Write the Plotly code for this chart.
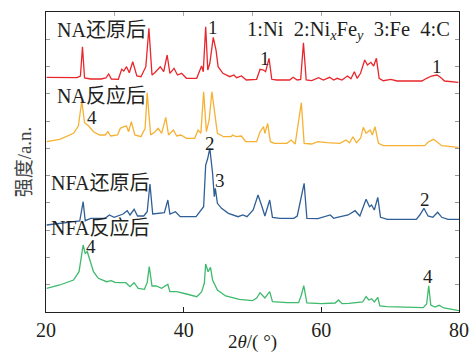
import plotly.graph_objects as go

# XRD patterns (2theta in degrees, stacked intensity in arbitrary units)
na_red_x = [20.1, 22.0, 24.5, 25.0, 25.3, 25.6, 26.5, 28.0, 28.7, 29.1, 29.5, 30.5, 31.0, 31.3, 31.7,
            32.1, 32.6, 33.2, 33.8, 34.5, 34.95, 35.4, 35.8, 36.6, 37.1, 37.6, 38.0, 38.6, 39.1, 39.7,
            40.4, 41.9, 42.3, 42.6, 42.85, 43.2, 43.5, 43.8, 44.3, 44.7, 45.0, 45.7, 46.7, 47.3, 47.7,
            48.4, 49.1, 50.6, 51.1, 51.6, 51.9, 52.4, 52.8, 53.5, 55.4, 55.9, 56.5, 57.0, 57.4, 57.8,
            58.6, 59.6, 60.3, 61.2, 61.8, 62.3, 63.0, 63.8, 64.3, 64.8, 65.2, 65.7, 66.3, 66.7, 67.2,
            67.6, 68.0, 68.4, 69.0, 70.1, 71.0, 74.6, 75.3, 76.0, 76.8, 77.3, 77.9, 79.9]
na_red_y = [234.7, 234.5, 234.3, 236, 265.3, 234, 233, 233, 234, 238, 233, 232.7, 242.7, 241, 245.3,
            239.3, 250.3, 236, 235.3, 245.3, 283.7, 237, 239.3, 245.3, 240.3, 257, 238.7, 243.7, 237, 238.7,
            233.7, 233.7, 241.3, 246, 240.3, 285.3, 242, 248.7, 274.7, 262, 245.3, 238.7, 235.3, 237, 234.3,
            236, 232, 232.7, 242.7, 242, 240.3, 253.7, 232.7, 232, 232, 234.7, 232, 232.5, 269.3, 232,
            231.3, 234.3, 232, 234.7, 232, 233.7, 232, 236, 233.3, 240.3, 233.7, 238.7, 252, 247, 249.7,
            246, 253.7, 233.7, 231.3, 232.7, 231, 231, 233.7, 236, 237, 234.7, 231, 229.7]

na_org_x = [20.1, 22.0, 24.0, 24.7, 25.2, 25.6, 26.2, 26.9, 27.8, 28.6, 29.0, 29.4, 30.4, 30.8, 31.3,
            31.7, 32.0, 32.4, 32.9, 33.8, 34.4, 34.7, 35.2, 35.8, 36.3, 36.8, 37.4, 37.8, 38.5, 39.0,
            39.6, 40.4, 41.6, 42.1, 42.5, 42.9, 43.3, 43.7, 44.1, 44.5, 44.9, 45.8, 46.9, 47.1, 47.6,
            48.4, 49.0, 50.6, 51.1, 51.6, 51.8, 52.2, 52.6, 53.2, 55.0, 55.6, 56.2, 57.1, 57.5, 58.6,
            59.5, 60.8, 62.7, 63.6, 64.1, 64.6, 65.1, 65.7, 66.1, 66.5, 67.1, 67.4, 67.8, 68.3, 69.0,
            75.0, 75.6, 76.3, 76.9, 77.5, 79.9]
na_org_y = [170.3, 172.7, 178.7, 186, 211, 189.3, 186, 180.3, 177, 177, 180.3, 176, 177, 183.7, 185.3,
            186, 180.3, 190.3, 177, 175.3, 183.7, 219.3, 177, 180, 183.7, 178.7, 194.7, 177, 182, 176,
            177, 173.7, 173.7, 182, 178.7, 220.3, 180.3, 192, 220.3, 202, 178.7, 175.3, 175.3, 177, 175.3,
            176, 170.3, 170.3, 180.3, 185.3, 178.7, 188.7, 170.3, 168.7, 168.7, 172, 168, 209.3, 168.7, 168,
            170.3, 169.3, 168.7, 172, 169.3, 175.3, 169.3, 173.7, 184.7, 178.7, 182, 177, 185.3, 168.7, 166.3,
            166.3, 170.3, 172.7, 169.3, 166.3, 164.7]

nfa_blue_x = [20.1, 22.0, 24.9, 25.4, 25.7, 26.5, 28.6, 29.2, 29.9, 31.2, 31.8, 32.2, 32.8, 33.3, 34.2,
              34.7, 35.1, 35.5, 36.6, 37.2, 37.7, 38.0, 38.8, 39.5, 41.8, 42.5, 42.9, 43.2, 43.5, 43.8,
              44.2, 44.45, 44.6, 44.9, 45.5, 46.5, 47.2, 47.9, 48.6, 49.2, 50.1, 50.8, 51.3, 51.8, 52.5,
              52.9, 54.0, 56.0, 56.5, 57.5, 57.9, 59.5, 61.3, 61.8, 62.3, 63.9, 64.9, 65.6, 66.5, 67.0,
              67.3, 67.7, 68.2, 68.6, 69.6, 73.8, 74.3, 74.9, 75.5, 76.2, 76.9, 77.5, 78.4, 80.0]
nfa_blue_y = [87, 88.7, 91, 110.3, 91.3, 93.7, 93.7, 97, 94.7, 98, 101.3, 97, 102.7, 96, 96,
              100.3, 128, 98, 98.7, 99.3, 112, 98, 100.3, 95.3, 95.3, 102, 105.3, 147, 153.7, 163.7,
              138.7, 115.3, 123.7, 108.7, 103.7, 98.7, 97, 95.3, 97, 95.3, 102, 117, 107, 96, 112,
              94.7, 93.7, 93.7, 96, 128.7, 93.7, 93.3, 97, 93.7, 94.7, 97, 101.3, 96, 112.7, 105.3,
              107, 102, 114.7, 94.7, 92.7, 92.7, 97, 103.7, 96, 94.7, 99.7, 94.7, 92.7, 92.7]

nfa_green_x = [20.1, 22.0, 24.0, 24.8, 25.4, 25.7, 26.0, 26.4, 26.9, 27.6, 28.8, 29.5, 30.0, 30.7, 31.6,
               32.2, 32.8, 33.4, 34.3, 34.7, 35.0, 35.4, 36.0, 36.8, 37.7, 38.0, 39.0, 40.4, 41.9, 42.6,
               43.0, 43.2, 43.55, 43.9, 44.2, 44.9, 46.1, 48.1, 50.0, 50.6, 51.1, 51.8, 52.5, 52.9, 55.0,
               56.7, 57.1, 57.45, 57.9, 60.0, 62.0, 62.5, 63.0, 64.0, 64.7, 65.5, 66.0, 66.5, 66.9, 67.3,
               67.7, 68.2, 68.5, 69.5, 73.0, 74.8, 75.3, 75.6, 75.9, 76.5, 77.1, 77.8, 80.0]
nfa_green_y = [23.7, 27, 32, 40.3, 67, 58.7, 60.3, 52, 40.3, 33.7, 30.3, 31.3, 29.7, 29.3, 29.3,
               25.3, 29.3, 23.7, 22.7, 29.3, 45.3, 26, 26, 23.7, 27.7, 20.3, 20.3, 18, 15.3, 20,
               28.7, 48, 40.3, 44.7, 32, 22, 16, 12.7, 11.3, 14, 19.3, 14, 20.3, 10.3, 9.3,
               9.3, 17, 26.3, 9, 8.3, 9, 12, 8.3, 8.7, 9.3, 9.3, 10, 15.3, 12, 13.3,
               10, 14.7, 6, 5.3, 5, 4.3, 8, 26.3, 7, 5, 6.7, 4, 1.3]

series = [
    (na_red_x, na_red_y, "#e8262b"),
    (na_org_x, na_org_y, "#f6b133"),
    (nfa_blue_x, nfa_blue_y, "#2f5f96"),
    (nfa_green_x, nfa_green_y, "#3dba6c"),
]

x_ticks = [20, 40, 60, 80]

FONT = '"Liberation Serif", "Noto Sans CJK SC", serif'
INK = "#231f20"

fig = go.Figure()
for xs, ys, color in series:
    fig.add_trace(go.Scatter(x=xs, y=ys, mode="lines",
                             line=dict(color=color, width=1.3),
                             showlegend=False, hoverinfo="skip"))

# invisible trace to carry the top axis with its minor ticks
fig.add_trace(go.Scatter(x=[20, 80], y=[0, 0], xaxis="x2", mode="lines",
                         line=dict(width=0), showlegend=False, hoverinfo="skip"))

labels = [
    ("NA还原后", 21.3, 282, "left", 20),
    ("NA反应后", 21.3, 216, "left", 20),
    ("NFA还原后", 20.5, 129, "left", 20),
    ("NFA反应后", 20.5, 84, "left", 20),
    ("1:Ni  2:Ni<sub><i>x</i></sub>Fe<sub><i>y</i></sub>  3:Fe  4:C", 48.9, 282, "left", 20.5),
    ("1", 44.3, 285, "center", 19),
    ("1", 51.8, 254, "center", 19),
    ("1", 76.8, 246, "center", 19),
    ("4", 26.7, 195, "center", 19),
    ("2", 43.8, 169, "center", 19),
    ("3", 45.3, 132, "center", 19),
    ("2", 75.1, 113, "center", 19),
    ("4", 26.6, 66, "center", 19),
    ("4", 75.5, 36, "center", 19),
]
for text, x, y, anchor, size in labels:
    fig.add_annotation(x=x, y=y, text=text, showarrow=False, xanchor=anchor, yanchor="middle",
                       font=dict(family=FONT, size=size, color=INK))

fig.update_layout(
    width=471, height=353,
    margin=dict(l=46, r=12, t=12, b=41),
    paper_bgcolor="white", plot_bgcolor="white",
    xaxis=dict(range=[20, 80], tickvals=x_ticks, ticks="inside", ticklen=5,
               tickcolor=INK, showline=True, linecolor=INK, linewidth=1.2,
               showgrid=False, zeroline=False, automargin=False,
               tickfont=dict(family=FONT, size=20, color=INK),
               title=dict(text="2<i>θ</i>/( °)", standoff=0,
                          font=dict(family=FONT, size=19, color=INK))),
    xaxis2=dict(range=[20, 80], overlaying="x", side="top", dtick=10, ticks="inside",
                ticklen=4, tickcolor="#aaaaaa", showticklabels=False, showline=True,
                linecolor=INK, linewidth=1.2, showgrid=False, zeroline=False,
                automargin=False),
    yaxis=dict(range=[0, 300], tick0=0, dtick=300 / 11, ticks="inside", ticklen=4,
               tickcolor="#999999", showticklabels=False, showline=True, mirror="ticks",
               linecolor=INK, linewidth=1.2, showgrid=False, zeroline=False,
               automargin=False,
               title=dict(text="强度/a.n.", standoff=8,
                          font=dict(family=FONT, size=19, color="#444444"))),
)

fig.write_html("out.html")
